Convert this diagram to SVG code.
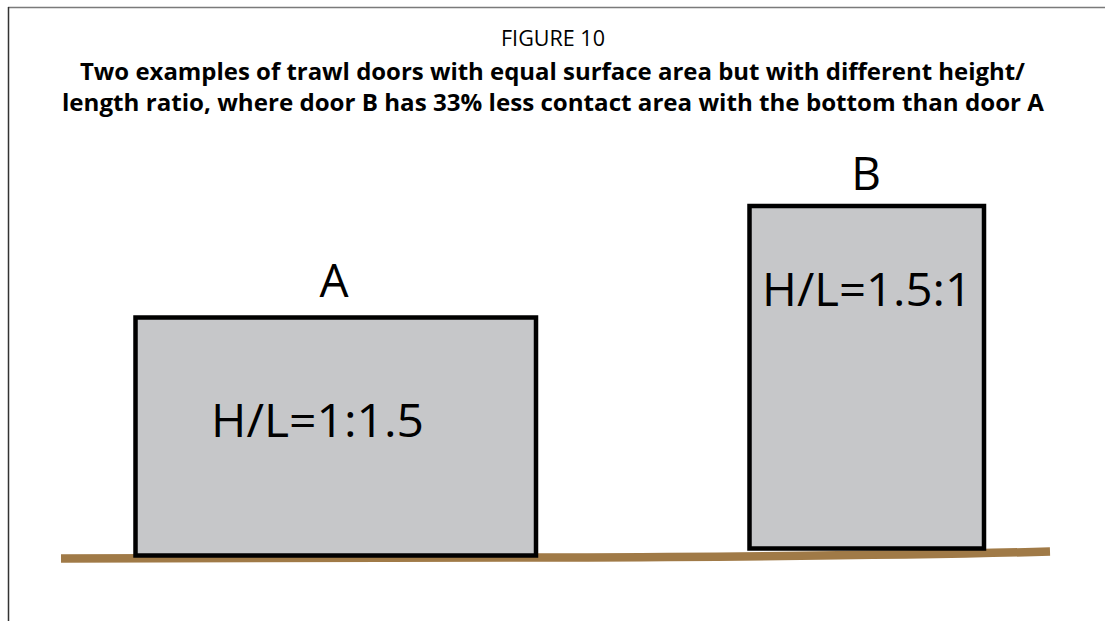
<svg xmlns="http://www.w3.org/2000/svg" width="1105" height="621" viewBox="0 0 1105 621">
<style>
.door{fill:#c6c7c9;stroke:#000;stroke-width:4.5}
.t{font-family:"Open Sans","Noto Sans",sans-serif;fill:#000}
.big{font-size:46px}
.cap{font-size:22.5px;font-weight:bold}
</style>
<rect width="1105" height="621" fill="#fff"/>
<g id="frame">
<line x1="8" y1="7.5" x2="1105" y2="7.5" stroke="#7a7a7a" stroke-width="1.5"/>
<line x1="8.5" y1="7" x2="8.5" y2="621" stroke="#333" stroke-width="1.5"/>
</g>
<g id="title">
<text class="t" x="553" y="46" text-anchor="middle" font-size="21" textLength="104" lengthAdjust="spacingAndGlyphs">FIGURE 10</text>
<text class="t cap" x="552.5" y="80" text-anchor="middle" textLength="945" lengthAdjust="spacingAndGlyphs">Two examples of trawl doors with equal surface area but with different height/</text>
<text class="t cap" x="553" y="111" text-anchor="middle" textLength="982" lengthAdjust="spacingAndGlyphs">length ratio, where door B has 33% less contact area with the bottom than door A</text>
</g>
<g id="connectors">
<path d="M61,558.5 L560,557.5 Q900,556 1050,551.5" fill="none" stroke="#a07a47" stroke-width="8.5"/>
</g>
<g id="doorA">
<rect class="door" x="135.5" y="317.5" width="400.5" height="238"/>
<text class="t big" x="334" y="297" text-anchor="middle">A</text>
<text class="t big" x="317.5" y="437" text-anchor="middle" textLength="213" lengthAdjust="spacingAndGlyphs">H/L=1:1.5</text>
</g>
<g id="doorB">
<rect class="door" x="749.5" y="206" width="234.5" height="342.5"/>
<text class="t big" x="866" y="190" text-anchor="middle">B</text>
<text class="t big" x="867" y="306" text-anchor="middle" textLength="210" lengthAdjust="spacingAndGlyphs">H/L=1.5:1</text>
</g>
</svg>
